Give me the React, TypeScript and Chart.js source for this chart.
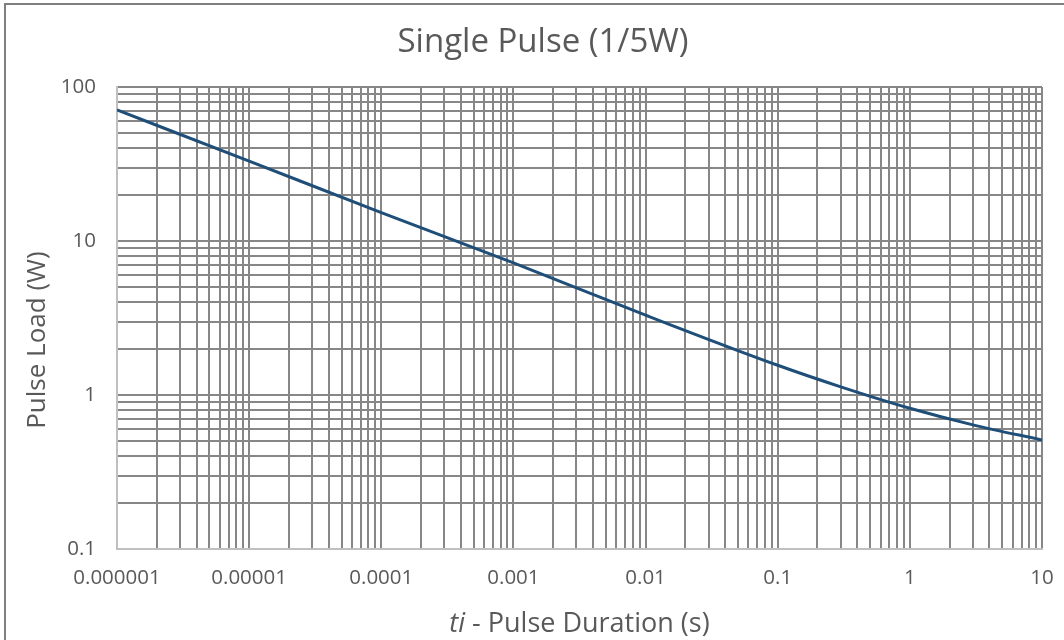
import React, { useEffect, useRef } from 'react';
import { Chart, registerables } from 'chart.js';

Chart.register(...registerables);

// Pulse duration (s) and pulse load (W)
const durations = [1e-6, 1e-5, 1e-4, 1e-3, 1e-2, 1e-1, 0.3, 1, 3, 10];
const pulseLoad = [71, 33, 15.3, 7.2, 3.3, 1.56, 1.13, 0.82, 0.64, 0.51];

const xTickLabels = ['0.000001', '0.00001', '0.0001', '0.001', '0.01', '0.1', '1', '10'];
const yTickLabels = ['0.1', '1', '10', '100'];

const chartTitle = 'Single Pulse (1/5W)';
const xTitleItalic = 'ti';
const xTitleRest = ' - Pulse Duration (s)';
const yTitle = 'Pulse Load (W)';

const X_MIN_EXP = -6;
const X_MAX_EXP = 1;
const Y_MIN_EXP = -1;
const Y_MAX_EXP = 2;

const FONT = '"Open Sans", Lato, sans-serif';
const TEXT = '#595959';
const GRID = '#878787';

function logTicks(minExp: number, maxExp: number) {
  const out: { value: number }[] = [];
  for (let e = minExp; e < maxExp; e++) {
    for (let m = 1; m <= 9; m++) out.push({ value: m * Math.pow(10, e) });
  }
  out.push({ value: Math.pow(10, maxExp) });
  return out;
}

function decadeIndex(v: number, minExp: number): number {
  const l = Math.log10(v);
  const r = Math.round(l);
  if (Math.abs(l - r) > 1e-6) return -1;
  return r - minExp;
}

const X_TITLE_SIZE = 27;
const Y_TITLE_SIZE = 26;
const TITLE_SIZE = 33;

const titlesPlugin = {
  id: 'titles',
  afterDraw(chart: any) {
    const { ctx, chartArea } = chart;
    ctx.save();
    ctx.fillStyle = TEXT;

    // chart title
    ctx.textAlign = 'center';
    ctx.textBaseline = 'middle';
    ctx.font = `${TITLE_SIZE}px ${FONT}`;
    ctx.fillText(chartTitle, 543, chartArea.top - 44);

    // y axis title
    ctx.save();
    ctx.translate(38, chartArea.top + 253);
    ctx.rotate(-Math.PI / 2);
    ctx.font = `${Y_TITLE_SIZE}px ${FONT}`;
    ctx.fillText(yTitle, 0, 0);
    ctx.restore();

    // x axis title with italic "ti"
    const cx = (chartArea.left + chartArea.right) / 2;
    const y = chartArea.bottom + 83;
    ctx.textBaseline = 'alphabetic';
    ctx.textAlign = 'left';
    ctx.font = `italic ${X_TITLE_SIZE}px ${FONT}`;
    const w1 = ctx.measureText(xTitleItalic).width;
    ctx.font = `${X_TITLE_SIZE}px ${FONT}`;
    const w2 = ctx.measureText(xTitleRest).width;
    const x0 = cx - (w1 + w2) / 2;
    ctx.font = `italic ${X_TITLE_SIZE}px ${FONT}`;
    ctx.fillText(xTitleItalic, x0, y);
    ctx.font = `${X_TITLE_SIZE}px ${FONT}`;
    ctx.fillText(xTitleRest, x0 + w1, y);
    ctx.restore();
  },
};

export default function App() {
  const ref = useRef<HTMLCanvasElement>(null);

  useEffect(() => {
    if (!ref.current) return;
    const chart = new Chart(ref.current, {
      type: 'line',
      data: {
        datasets: [
          {
            data: durations.map((x, i) => ({ x, y: pulseLoad[i] })),
            borderColor: '#1f4e79',
            borderWidth: 3,
            pointRadius: 0,
            cubicInterpolationMode: 'monotone',
            fill: false,
          },
        ],
      },
      options: {
        animation: false,
        responsive: false,
        devicePixelRatio: 1,
        layout: { padding: { left: 0, right: 22, top: 87, bottom: 0 } },
        plugins: {
          legend: { display: false },
          tooltip: { enabled: false },
          title: { display: false },
        },
        scales: {
          x: {
            type: 'logarithmic',
            min: Math.pow(10, X_MIN_EXP),
            max: Math.pow(10, X_MAX_EXP),
            afterBuildTicks: (scale: any) => {
              scale.ticks = logTicks(X_MIN_EXP, X_MAX_EXP);
            },
            afterFit: (scale: any) => {
              scale.height = 91;
              scale.paddingLeft = 0;
              scale.paddingRight = 0;
            },
            grid: { color: GRID, lineWidth: 2, drawTicks: false },
            border: { color: '#c0c0c0', width: 2 },
            ticks: {
              autoSkip: false,
              maxRotation: 0,
              color: TEXT,
              font: { family: FONT, size: 20.5 },
              padding: 17,
              callback: (v: any) => {
                const i = decadeIndex(Number(v), X_MIN_EXP);
                return i >= 0 ? xTickLabels[i] : '';
              },
            },
          },
          y: {
            type: 'logarithmic',
            min: Math.pow(10, Y_MIN_EXP),
            max: Math.pow(10, Y_MAX_EXP),
            afterBuildTicks: (scale: any) => {
              scale.ticks = logTicks(Y_MIN_EXP, Y_MAX_EXP);
            },
            afterFit: (scale: any) => {
              scale.width = 117;
              scale.paddingTop = 0;
              scale.paddingBottom = 0;
            },
            grid: { color: GRID, lineWidth: 2, drawTicks: false },
            border: { color: '#c0c0c0', width: 2 },
            ticks: {
              autoSkip: false,
              color: TEXT,
              font: { family: FONT, size: 20.5 },
              padding: 21,
              callback: (v: any) => {
                const i = decadeIndex(Number(v), Y_MIN_EXP);
                return i >= 0 ? yTickLabels[i] : '';
              },
            },
          },
        },
      },
      plugins: [titlesPlugin],
    } as any);
    return () => chart.destroy();
  }, []);

  return (
    <div
      style={{
        position: 'fixed',
        left: 0,
        top: 0,
        width: 1064,
        height: 640,
        overflow: 'hidden',
        background: '#ffffff',
      }}
    >
      <canvas ref={ref} width={1064} height={640} style={{ display: 'block' }} />
      <div
        style={{
          position: 'absolute',
          left: 4,
          top: 3,
          width: 1100,
          height: 700,
          border: '2px solid #7f7f7f',
          pointerEvents: 'none',
        }}
      />
    </div>
  );
}
